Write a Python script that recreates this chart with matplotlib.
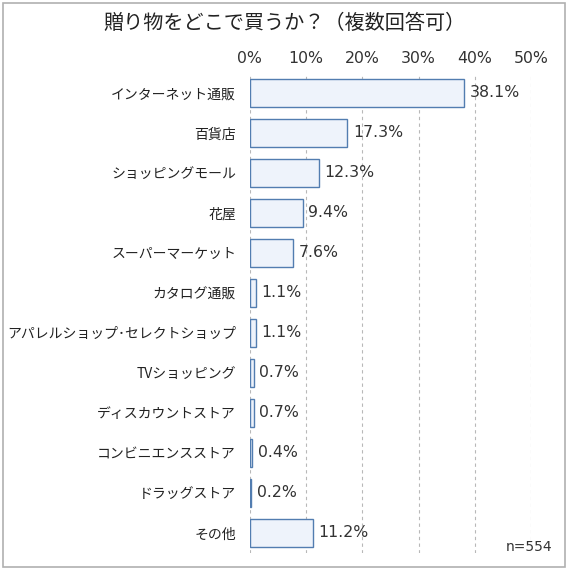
import matplotlib.pyplot as plt
from matplotlib.patches import Rectangle

plt.rcParams['font.family'] = ['Noto Sans CJK JP', 'DejaVu Sans']

categories = ['インターネット通販', '百貨店', 'ショッピングモール', '花屋', 'スーパーマーケット',
              'カタログ通販', 'アパレルショップ･セレクトショップ', 'TVショッピング',
              'ディスカウントストア', 'コンビニエンスストア', 'ドラッグストア', 'その他']
values = [38.1, 17.3, 12.3, 9.4, 7.6, 1.1, 1.1, 0.7, 0.7, 0.4, 0.2, 11.2]
ticks = [0, 10, 20, 30, 40, 50]

num_font = dict(family='DejaVu Sans', fontsize=11.3, color='#333333')

fig = plt.figure(figsize=(5.68, 5.70), dpi=100)
fig.patches.append(Rectangle((0.006, 0.006), 0.988, 0.988, transform=fig.transFigure,
                             fill=False, edgecolor='#b0b0b0', lw=1.2))

ax = fig.add_axes([0.440, 0.030, 0.495, 0.842])
y = range(len(categories))
ax.barh(y, values, height=0.7, color='#eef3fb', edgecolor='#527db0', lw=1.0, zorder=3)
for i, v in enumerate(values):
    ax.text(v + 1.0, i, f'{v}%', va='center', ha='left', zorder=4, **num_font)

ax.set_xlim(0, 50)
ax.set_ylim(len(categories) - 0.5, -0.5)
ax.set_yticks(list(y))
ax.set_yticklabels(categories, fontsize=10, color='#222222')
ax.set_xticks(ticks)
ax.set_xticklabels([f'{t}%' for t in ticks], **num_font)
ax.xaxis.tick_top()
ax.tick_params(length=0, pad=5)
ax.tick_params(axis='y', pad=10)
ax.grid(axis='x', linestyle=(0, (3, 3)), color='#b8b8b8', lw=0.8, zorder=0)
for s in ax.spines.values():
    s.set_visible(False)

fig.text(0.5, 0.958, '贈り物をどこで買うか？（複数回答可）', ha='center', va='center',
         fontsize=14.5, color='#222222')
fig.text(0.972, 0.04, 'n=554', ha='right', va='center', family='DejaVu Sans',
         fontsize=10, color='#333333')

fig.savefig('out.png', dpi=100)
